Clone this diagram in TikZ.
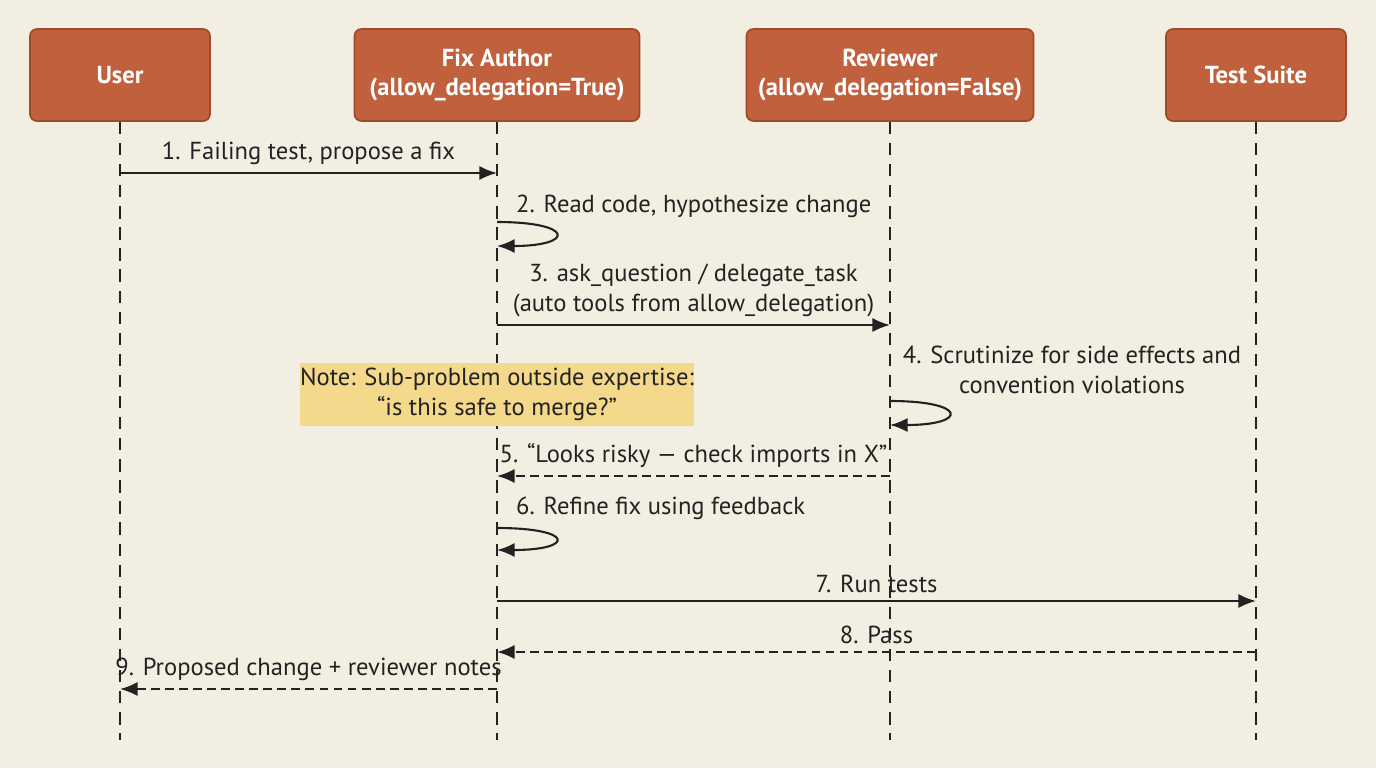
\documentclass[tikz,border=0pt]{standalone}
\usepackage{fontspec}
\setmainfont{PT Sans}
\usetikzlibrary{arrows.meta}
\definecolor{bgcol}{HTML}{F3EEE2}
\definecolor{actorfill}{HTML}{C0603C}
\definecolor{actorline}{HTML}{A04A2A}
\definecolor{notefill}{HTML}{F4D98C}
\definecolor{ink}{HTML}{222222}
\tikzset{
  actor/.style={draw=actorline, line width=1pt, fill=actorfill, rounded corners=4pt, text=white, font=\fontsize{14}{17}\selectfont\bfseries, align=center, minimum height=92*0.02cm, inner sep=0pt},
  life/.style={ink, dashed, line width=1pt, dash pattern=on 7pt off 5pt},
  msg/.style={ink, line width=1.2pt, -{Latex[length=10pt,width=8pt]}},
  reply/.style={msg, dash pattern=on 5pt off 3pt},
  lbl/.style={text=ink, font=\fontsize{14}{17}\selectfont, align=center, inner sep=1pt},
}
\begin{document}
\begin{tikzpicture}[x=0.02cm,y=-0.02cm]
    \fill[bgcol] (0,0) rectangle (1376,768);
    \useasboundingbox (0,0) rectangle (1376,768);
    % actors
    \node[actor, minimum width=180*0.02cm] (user) at (120,75) {User};
    \node[actor, minimum width=285*0.02cm] (fix) at (497,75) {Fix Author\\(allow\_delegation=True)};
    \node[actor, minimum width=287*0.02cm] (rev) at (890,75) {Reviewer\\(allow\_delegation=False)};
    \node[actor, minimum width=180*0.02cm] (test) at (1256,75) {Test Suite};
    % lifelines
    \coordinate (userE) at (120,740);
    \coordinate (fixE) at (497,740);
    \coordinate (revE) at (890,740);
    \coordinate (testE) at (1256,740);
    \draw[life] (user.south) -- (userE);
    \draw[life] (fix.south) -- (fixE);
    \draw[life] (rev.south) -- (revE);
    \draw[life] (test.south) -- (testE);
    % note
    \node[fill=notefill, minimum width=381*0.02cm, minimum height=63*0.02cm, lbl, inner sep=0pt] (note) at (497,394) {Note: Sub-problem outside expertise:\\``is this safe to merge?''};
    % messages
    \coordinate (m1a) at (120,173); \coordinate (m1b) at (497,173);
    \draw[msg] (m1a) -- node[lbl, above=3pt] (l1) {1. Failing test, propose a fix} (m1b);
    \coordinate (m2a) at (497,222); \coordinate (m2b) at (497,246);
    \draw[msg] (m2a) .. controls (575,222) and (575,246) .. (m2b);
    \node[lbl, anchor=west] (l2) at (514,206) {2. Read code, hypothesize change};
    \coordinate (m3a) at (497,325); \coordinate (m3b) at (890,325);
    \draw[msg] (m3a) -- node[lbl, above=3pt] (l3) {3. ask\_question / delegate\_task\\(auto tools from allow\_delegation)} (m3b);
    \coordinate (m4a) at (890,401); \coordinate (m4b) at (890,425);
    \draw[msg] (m4a) .. controls (968,401) and (968,425) .. (m4b);
    \node[lbl] (l4) at (1072,370) {4. Scrutinize for side effects and\\convention violations};
    \coordinate (m5a) at (890,476); \coordinate (m5b) at (497,476);
    \draw[reply] (m5a) -- node[lbl, above=3pt] (l5) {5. ``Looks risky — check imports in X''} (m5b);
    \coordinate (m6a) at (497,528); \coordinate (m6b) at (497,550);
    \draw[msg] (m6a) .. controls (575,528) and (575,550) .. (m6b);
    \node[lbl, anchor=west] (l6) at (514,508) {6. Refine fix using feedback};
    \coordinate (m7a) at (497,601); \coordinate (m7b) at (1256,601);
    \draw[msg] (m7a) -- node[lbl, above=3pt] (l7) {7. Run tests} (m7b);
    \coordinate (m8a) at (1256,652); \coordinate (m8b) at (497,652);
    \draw[reply] (m8a) -- node[lbl, above=3pt] (l8) {8. Pass} (m8b);
    \coordinate (m9a) at (497,689); \coordinate (m9b) at (120,689);
    \draw[reply] (m9a) -- node[lbl, above=3pt] (l9) {9. Proposed change + reviewer notes} (m9b);
\end{tikzpicture}
\end{document}
